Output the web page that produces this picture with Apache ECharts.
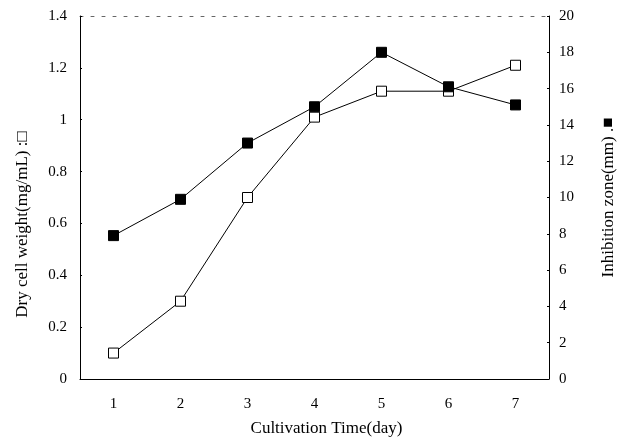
<!DOCTYPE html>
<html>
<head>
<meta charset="utf-8">
<script src="https://cdn.jsdelivr.net/npm/echarts@6/dist/echarts.min.js"></script>
<style>html,body{margin:0;padding:0;background:#fff;}#c{width:625px;height:442px;}</style>
</head>
<body>
<div id="c"></div>
<script>
const days = ['1', '2', '3', '4', '5', '6', '7'];
const dryCellWeight = [0.10, 0.30, 0.70, 1.01, 1.11, 1.11, 1.21];
const inhibitionZone = [7.9, 9.9, 13.0, 15.0, 18.0, 16.1, 15.1];
const leftTitle = 'Dry cell weight(mg/mL) :□';
const rightTitle = 'Inhibition zone(mm) .■';
const xTitle = 'Cultivation Time(day)';

const font = 'Liberation Serif';
const chart = echarts.init(document.getElementById('c'));
chart.setOption({
  animation: false,
  backgroundColor: '#fff',
  grid: { left: 80, right: 76, top: 16, bottom: 59 },
  xAxis: [{
    type: 'category', data: days, boundaryGap: true, position: 'bottom',
    axisLine: { onZero: false, lineStyle: { color: '#000', width: 1 } },
    axisTick: { inside: true, length: 3, lineStyle: { color: '#000' } },
    axisLabel: { color: '#000', fontFamily: font, fontSize: 15, margin: 18 },
    name: xTitle, nameLocation: 'middle', nameGap: 41,
    nameTextStyle: { color: '#000', fontFamily: font, fontSize: 17, padding: [0, 0, 0, 24] },
    splitLine: { show: false }
  }, {
    type: 'category', data: days, boundaryGap: true, position: 'top',
    axisLine: { onZero: false, lineStyle: { color: '#666', width: 1, type: [3, 8] } },
    axisTick: { show: false }, axisLabel: { show: false }, splitLine: { show: false }
  }],
  yAxis: [{
    type: 'value', min: 0, max: 1.4, interval: 0.2, position: 'left',
    axisLine: { show: true, lineStyle: { color: '#000', width: 1 } },
    axisTick: { show: true, inside: true, length: 2, lineStyle: { color: '#000' } },
    axisLabel: { color: '#000', fontFamily: font, fontSize: 15, margin: 13 },
    splitLine: { show: false },
    name: leftTitle, nameLocation: 'middle', nameGap: 49, nameRotate: 90,
    nameTextStyle: { color: '#000', fontFamily: font, fontSize: 17, padding: [0, 54, 0, 0] }
  }, {
    type: 'value', min: 0, max: 20, interval: 2, position: 'right',
    axisLine: { show: true, lineStyle: { color: '#000', width: 1 } },
    axisTick: { show: true, inside: true, length: 2, lineStyle: { color: '#000' } },
    axisLabel: { color: '#000', fontFamily: font, fontSize: 15, margin: 10 },
    splitLine: { show: false },
    name: rightTitle, nameLocation: 'middle', nameGap: 51, nameRotate: 90,
    nameTextStyle: { color: '#000', fontFamily: font, fontSize: 17 }
  }],
  series: [{
    name: 'Dry cell weight', type: 'line', yAxisIndex: 0, data: dryCellWeight,
    symbol: 'rect', symbolSize: 10, showAllSymbol: true,
    lineStyle: { color: '#000', width: 1 },
    itemStyle: { color: '#fff', borderColor: '#000', borderWidth: 1 },
    z: 3
  }, {
    name: 'Inhibition zone', type: 'line', yAxisIndex: 1, data: inhibitionZone,
    symbol: 'rect', symbolSize: 10, showAllSymbol: true,
    lineStyle: { color: '#000', width: 1 },
    itemStyle: { color: '#000', borderColor: '#000', borderWidth: 1 },
    z: 4
  }]
});
</script>
</body>
</html>
